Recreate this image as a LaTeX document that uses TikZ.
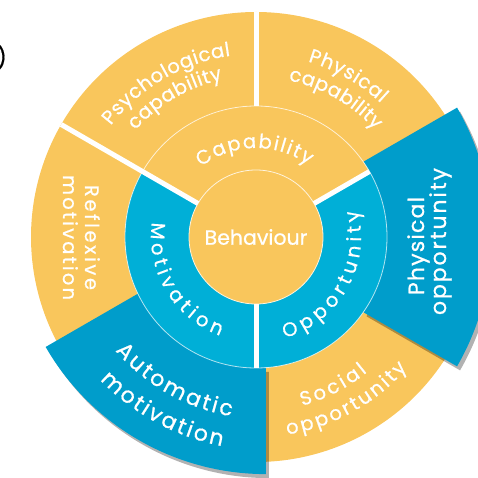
\documentclass[tikz,border=0pt]{standalone}
\usepackage{fontspec}
\setmainfont{Poppins}[FakeBold=0.7]
\usetikzlibrary{decorations.text}

\definecolor{combyellow}{RGB}{249,198,92}
\definecolor{comblight}{RGB}{0,175,215}
\definecolor{combdeep}{RGB}{0,157,203}

\newcommand\combfont[1]{\fontsize{#1}{#1}\selectfont\color{white}}
% annular sector: start angle, end angle, inner radius, outer radius
\newcommand\combsector[4]{(#1:#4) arc[start angle=#1, end angle=#2, radius=#4]
  -- (#2:#3) arc[start angle=#2, end angle=#1, radius=#3] -- cycle}

\begin{document}
\begin{tikzpicture}[x=1pt, y=1pt,
    gap/.style={draw=white, line width=5pt},
    rim/.style={draw=white, line width=0.8pt, opacity=0.7},
    drop/.style={fill=black, opacity=0.3}]
\useasboundingbox (0,0) rectangle (478,477);

% outer ring
\begin{scope}[shift={(256,240)}]
  \foreach \st/\en in {30/90, 90/150, 150/210, 270/330}
    \fill[combyellow] \combsector{\st}{\en}{131}{225};
\end{scope}

% popped-out sectors with their shadow
\foreach \cx/\cy/\st/\en/\ri/\ro in {233/240/-30/30/150.7/258.7, 265.9/257.2/210/270/148/254.3} {
  \begin{scope}[shift={(\cx,\cy)}]
    \fill[drop, shift={(3,-4)}] \combsector{\st}{\en}{\ri}{\ro};
    \fill[combdeep] \combsector{\st}{\en}{\ri}{\ro};
  \end{scope}
}

% middle ring and centre
\begin{scope}[shift={(256,240)}]
  \fill[combyellow] \combsector{30}{150}{60}{131};
  \fill[comblight] \combsector{150}{270}{60}{131};
  \fill[comblight] \combsector{270}{390}{60}{131};
  \draw[rim] (0,0) circle[radius=131];
  \node[circle, fill=combyellow, draw=white!80!combyellow, line width=0.8pt,
        minimum size=134pt, inner sep=0pt, font=\combfont{20.5}] (behaviour) at (0,0) {Behaviour};
  \foreach \ang/\ri/\ro in {30/67/131, 150/67/225, 270/67/131, 90/131/225}
    \draw[gap] (\ang:\ri) -- (\ang:\ro);
\end{scope}

% curved labels: centre, start, end, radius, size, word
\foreach \cx/\cy/\st/\en/\rad/\sz/\word in {
    256/240/142.5/98/183/19.5/Psychological, 256/240/138.5/102/161/19.5/capability,
    256/240/73.5/47/183/19.5/Physical, 256/240/78.3/42/160/19.5/capability,
    256/240/128/54/89/19.5/Capability, 256/240/172/250/105/19.5/Motivation,
    256/240/286/375/105/19.5/Opportunity, 256/240/285.3/309.5/175/19.5/Social,
    256/240/279/319/200/19.5/opportunity,
    265.9/257.2/221/260/199.5/22/Automatic, 265.9/257.2/224/259/230.5/22/motivation}
  \path[decorate, decoration={text along path, text align={fit to path},
      text/.expanded={|\noexpand\combfont{\sz}|\word}}]
    ([shift={(\st:\rad)}]\cx,\cy) arc[start angle=\st, end angle=\en, radius=\rad];

% straight labels
\foreach \xa/\ya/\xb/\yb/\sz/\word in {85/292/85/187/19.5/Reflexive, 63/302/63/177/19.5/motivation,
    424/182/424/280/22/Physical, 446/162/446/309/22/opportunity}
  \path[decorate, decoration={text along path, text align={fit to path},
      text/.expanded={|\noexpand\combfont{\sz}|\word}}] (\xa,\ya) -- (\xb,\yb);

\node[anchor=east, inner sep=0pt, font=\fontsize{22}{22}\selectfont] (panel) at (7,420) {)};
\end{tikzpicture}
\end{document}
